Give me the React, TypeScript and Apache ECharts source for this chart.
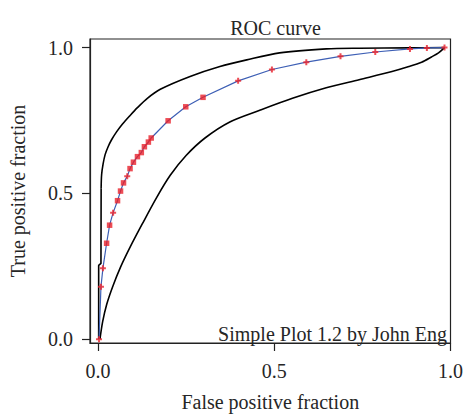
import React, { useEffect, useRef } from "react";
import * as echarts from "echarts";

const tickValues = [0, 0.5, 1.0];

const rocX = [0.003, 0.0085, 0.014, 0.0245, 0.033, 0.043, 0.0555, 0.064, 0.0725, 0.083, 0.091, 0.1006, 0.112, 0.123, 0.1317, 0.143, 0.151, 0.199, 0.249, 0.298, 0.3976, 0.4934, 0.591, 0.688, 0.7866, 0.885, 0.933, 0.983];
const rocY = [0.0, 0.18, 0.243, 0.329, 0.391, 0.434, 0.475, 0.508, 0.536, 0.559, 0.585, 0.607, 0.626, 0.64, 0.66, 0.676, 0.69, 0.749, 0.797, 0.8295, 0.886, 0.925, 0.95, 0.97, 0.985, 0.9956, 0.999, 1.0];
const rocMarker = ["c", "c", "c", "s", "s", "c", "s", "s", "s", "c", "s", "s", "s", "s", "s", "s", "s", "s", "s", "s", "c", "c", "c", "c", "c", "c", "c", "c"];

// upper confidence bound: vertical step part, then smooth part
const upperStepX = [0.002, 0.002, 0.0085, 0.009];
const upperStepY = [0.0, 0.253, 0.26, 0.518];
const upperX = [0.009, 0.0104, 0.0147, 0.0203, 0.0288, 0.0386, 0.0527, 0.0696, 0.0894, 0.1119, 0.1401, 0.1768, 0.2613, 0.3459, 0.422, 0.5151, 0.6476, 0.741, 0.882, 0.983];
const upperY = [0.518, 0.565, 0.602, 0.633, 0.66, 0.684, 0.711, 0.738, 0.765, 0.794, 0.826, 0.857, 0.901, 0.935, 0.958, 0.982, 0.9956, 0.998, 0.999, 1.0];

// lower confidence bound
const lowerX = [0.0056, 0.0133, 0.0245, 0.0414, 0.064, 0.0922, 0.126, 0.1655, 0.205, 0.25, 0.3036, 0.374, 0.459, 0.5517, 0.6475, 0.7408, 0.834, 0.882, 0.918, 0.946, 0.966, 0.983];
const lowerY = [0.0, 0.06, 0.118, 0.179, 0.247, 0.318, 0.396, 0.484, 0.562, 0.63, 0.69, 0.745, 0.785, 0.826, 0.862, 0.89, 0.918, 0.935, 0.95, 0.968, 0.982, 1.0];

const FONT = "Liberation Serif";
const TEXT = "#262626";

export default function App() {
  const ref = useRef<HTMLDivElement>(null);
  useEffect(() => {
    document.body.style.margin = "0";
    const chart = echarts.init(ref.current!, null, { renderer: "svg" });
    const pair = (xs: number[], ys: number[]) => xs.map((x, i) => [x, ys[i]]);
    const roc = pair(rocX, rocY);
    const squares = roc.filter((_, i) => rocMarker[i] === "s");
    const crosses = roc.filter((_, i) => rocMarker[i] === "c");
    const blackLine = { color: "#000", width: 1.6 };
    chart.setOption({
      animation: false,
      backgroundColor: "#fff",
      title: {
        text: "ROC curve",
        left: 270.5,
        textAlign: "center",
        top: 13,
        textStyle: { fontFamily: FONT, fontSize: 20, fontWeight: "normal", color: TEXT },
      },
      grid: {
        left: 89,
        top: 39,
        right: 14,
        bottom: 70.5,
        show: true,
        borderColor: "#222",
        borderWidth: 1.2,
      },
      xAxis: {
        type: "value",
        min: -0.0226,
        max: 1.0,
        name: "False positive fraction",
        nameLocation: "middle",
        nameGap: 49,
        nameTextStyle: { fontFamily: FONT, fontSize: 20, color: TEXT },
        axisLine: { show: true, onZero: false, lineStyle: { color: "#222", width: 1.2 } },
        axisTick: { show: true, inside: false, length: 8, customValues: tickValues, lineStyle: { color: "#222", width: 1.2 } },
        axisLabel: {
          customValues: tickValues,
          margin: 18,
          fontFamily: FONT,
          fontSize: 20,
          color: TEXT,
          formatter: (v: number) => v.toFixed(1),
        },
        splitLine: { show: false },
      },
      yAxis: {
        type: "value",
        min: -0.013,
        max: 1.0295,
        name: "True positive fraction",
        nameLocation: "middle",
        nameGap: 62,
        nameTextStyle: { fontFamily: FONT, fontSize: 20, color: TEXT },
        axisLine: { show: true, onZero: false, lineStyle: { color: "#222", width: 1.2 } },
        axisTick: { show: true, inside: false, length: 8, customValues: tickValues, lineStyle: { color: "#222", width: 1.2 } },
        axisLabel: {
          customValues: tickValues,
          margin: 17,
          fontFamily: FONT,
          fontSize: 20,
          color: TEXT,
          formatter: (v: number) => v.toFixed(1),
        },
        splitLine: { show: false },
      },
      graphic: [
        {
          type: "text",
          right: 19,
          bottom: 73,
          z: 100,
          style: {
            text: "Simple Plot 1.2 by John Eng",
            fontFamily: FONT,
            fontSize: 20,
            fill: TEXT,
          },
        },
      ],
      series: [
        {
          type: "line",
          data: pair(upperStepX, upperStepY),
          symbol: "none",
          lineStyle: blackLine,
          z: 2,
        },
        {
          type: "line",
          data: pair(upperX, upperY),
          symbol: "none",
          smooth: 0.3,
          lineStyle: blackLine,
          z: 2,
        },
        {
          type: "line",
          data: pair(lowerX, lowerY),
          symbol: "none",
          smooth: 0.3,
          lineStyle: blackLine,
          z: 2,
        },
        {
          type: "line",
          data: roc,
          symbol: "none",
          lineStyle: { color: "#3d5fb5", width: 1.2 },
          z: 3,
        },
        {
          type: "scatter",
          data: squares,
          symbol: "rect",
          symbolSize: 5.5,
          itemStyle: { color: "#e8212b" },
          z: 4,
        },
        {
          type: "scatter",
          data: crosses,
          symbol: "path://M2,0H4V2H6V4H4V6H2V4H0V2H2Z",
          symbolSize: 6,
          itemStyle: { color: "#e8212b" },
          z: 4,
        },
      ],
    });
    return () => chart.dispose();
  }, []);
  return <div ref={ref} style={{ width: 466, height: 417 }} />;
}
